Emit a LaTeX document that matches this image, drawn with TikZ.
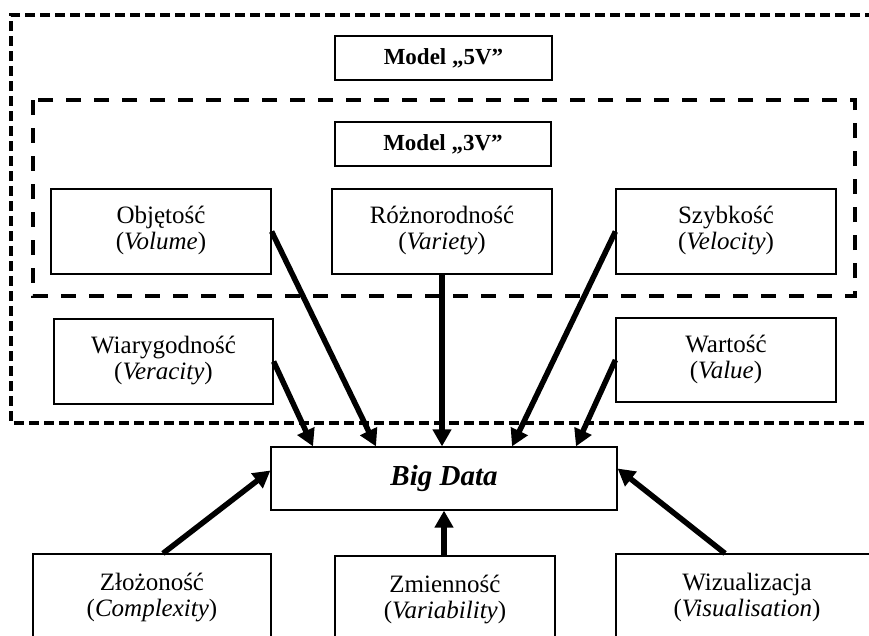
\documentclass[tikz,border=0pt]{standalone}
\usepackage{fontspec}
\setmainfont{Liberation Serif}
\usetikzlibrary{arrows.meta,calc}
\newcommand{\twolines}[2]{\raisebox{-5pt}{\begin{tabular}{@{}c@{}}#1\\#2\end{tabular}}}
\begin{document}
\begin{tikzpicture}[x=1pt,y=-1pt,
  box/.style={draw,line width=1.2pt,inner sep=0pt,align=center,
    font=\fontsize{25}{26}\selectfont},
  hdr/.style={draw,line width=1.2pt,inner sep=0pt,align=center,
    font=\fontsize{23}{28}\selectfont\bfseries},
  arr/.style={line width=5.5pt,-{Triangle[length=17pt,width=18pt]}},
  outerdash/.style={line width=4pt,dash pattern=on 10pt off 5pt},
  innerdash/.style={line width=4pt,dash pattern=on 15pt off 13pt}]
\useasboundingbox (0,0) rectangle (869,635);
% dashed frames
\draw[outerdash] (920,15) -- (11,15) -- (11,423) -- (920,423);
\draw[innerdash] (33,100) rectangle (855,296);
% nodes
\node[hdr,minimum width=217pt,minimum height=44pt] (m5) at (443.5,58) {Model „5V”};
\node[hdr,minimum width=216pt,minimum height=44pt] (m3) at (443,144) {Model „3V”};
\node[box,minimum width=220pt,minimum height=85pt] (obj) at (161,231.5) {\twolines{Objętość}{(\textit{Volume})}};
\node[box,minimum width=220pt,minimum height=85pt] (roz) at (442,231.5) {\twolines{Różnorodność}{(\textit{Variety})}};
\node[box,minimum width=220pt,minimum height=85pt] (szy) at (726,231.5) {\twolines{Szybkość}{(\textit{Velocity})}};
\node[box,minimum width=219pt,minimum height=85pt] (wia) at (163.5,361.5) {\twolines{Wiarygodność}{(\textit{Veracity})}};
\node[box,minimum width=220pt,minimum height=84pt] (war) at (726,360) {\twolines{Wartość}{(\textit{Value})}};
\node[box,minimum width=346pt,minimum height=63pt,font=\fontsize{29}{34}\selectfont\bfseries\itshape] (bd) at (444,478.5) {Big Data};
\node[box,minimum width=238pt,minimum height=88pt] (zlo) at (152,598) {\twolines{Złożoność}{(\textit{Complexity})}};
\node[box,minimum width=220pt,minimum height=88pt] (zmi) at (445,600) {\twolines{Zmienność}{(\textit{Variability})}};
\node[box,minimum width=274pt,minimum height=88pt] (wiz) at (753,598) {\hspace*{-12pt}\twolines{Wizualizacja}{(\textit{Visualisation})}};
% connectors
\draw[arr] (obj.east) -- ([xshift=-68pt]bd.north);
\draw[arr] (wia.east) -- ([xshift=-131pt]bd.north);
\draw[arr] (roz.south) -- (roz.south |- bd.north);
\draw[arr] (szy.west) -- ([xshift=68pt]bd.north);
\draw[arr] (war.west) -- ([xshift=132pt]bd.north);
\draw[arr] ([xshift=11pt]zlo.north) -- ([yshift=8pt]bd.west);
\draw[arr] ([xshift=-1pt]zmi.north) -- ([xshift=-1pt]zmi.north |- bd.south);
\draw[arr] ([xshift=-28pt]wiz.north) -- ([yshift=10pt]bd.east);
\end{tikzpicture}
\end{document}
